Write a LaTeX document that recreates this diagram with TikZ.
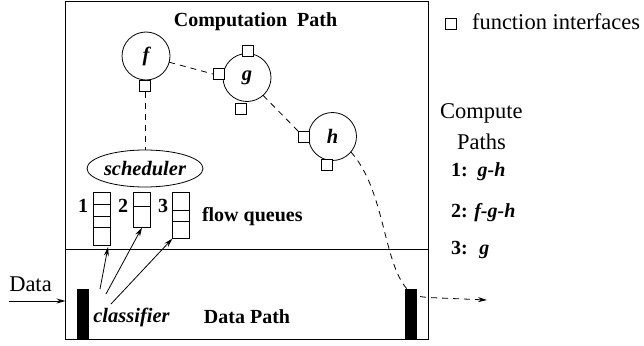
\documentclass[tikz,border=0pt]{standalone}
\usepackage{fontspec}
\setmainfont{Liberation Serif}
\usetikzlibrary{arrows.meta,calc,shapes.geometric}
\begin{document}
\begin{tikzpicture}[x=1pt,y=-1pt,
  every node/.style={inner sep=0pt,outer sep=0pt},
  txt/.style={font=\fontsize{22.5}{26}\selectfont},
  btxt/.style={font=\fontsize{20}{24}\selectfont\bfseries},
  bitxt/.style={font=\fontsize{20.5}{24}\selectfont\bfseries\itshape},
  func/.style={circle,draw,line width=0.8pt,minimum size=48pt,bitxt},
  iface/.style={rectangle,draw,line width=0.8pt,minimum size=11pt,fill=white},
  queue/.style={rectangle,draw,line width=0.8pt,minimum width=17pt},
  bar/.style={rectangle,fill=black,minimum width=12pt,minimum height=50pt},
  link/.style={line width=0.8pt,dash pattern=on 6pt off 5pt},
  arr/.style={line width=0.8pt,-{Stealth[length=9pt,width=5pt]}}]
\useasboundingbox (0,0) rectangle (644,345);

% outer frame and split between compute and data halves
\draw[line width=0.8pt] (65.5,1.5) rectangle (428,339);
\draw[line width=0.8pt] (65.5,249) -- (428,249);

% computation path: functions and their interfaces
\node[btxt] (ctitle) at (255.5,22) {Computation\ \ Path};
\node[func] (fc) at (146,56) {f};
\node[func] (gc) at (247,77.5) {g};
\node[func] (hc) at (332.5,136.5) {h};
\node[iface] (fb) at (145,86) {};
\node[iface] (gt) at (247.5,50.5) {};
\node[iface] (gl) at (218.5,74) {};
\node[iface] (gb) at (241,108.5) {};
\node[iface] (hl) at (303.5,136.5) {};
\node[iface] (hb) at (327,165) {};

\draw[link] (fc.-15) -- (gl.west);
\draw[link] (gc.-48) -- (hl.north west);

% scheduler and flow queues
\node[ellipse,draw,line width=0.8pt,minimum width=114pt,minimum height=37pt,bitxt] (sched) at (145,168.5) {scheduler};
\draw[link] (fb.south) -- (sched.north);

\node[queue,minimum height=53pt,anchor=north] (q1) at (102,192) {};
\foreach \y in {204,216,227} \draw[line width=0.8pt] (q1.west |- 0,\y) -- (q1.east |- 0,\y);
\node[queue,minimum height=35pt,anchor=north] (q2) at (142,192) {};
\draw[line width=0.8pt] (q2.west |- 0,206) -- (q2.east |- 0,206);
\node[queue,minimum height=46pt,anchor=north] (q3) at (181,192) {};
\foreach \y in {210,221} \draw[line width=0.8pt] (q3.west |- 0,\y) -- (q3.east |- 0,\y);

\node[btxt] (n1) at (83,206) {1};
\node[btxt] (n2) at (123,206) {2};
\node[btxt] (n3) at (163,206) {3};
\node[btxt,anchor=west] (fq) at (202,217) {flow queues};

% data path
\node[txt] (data) at (30.5,284) {Data};
\node[bar,anchor=north west] (barL) at (77,289) {};
\draw[arr] (9,301) coordinate (din) -- (din -| 65.5,0);

\node[bitxt] (cls) at (131.5,317) {classifier};
\node[btxt] (dpath) at (247,317) {Data Path};

\coordinate (c1) at (100,289);
\coordinate (c2) at (106,294);
\coordinate (c3) at (111,304);
\draw[arr] (c1) -- ($(q1.south)+(6,2)$);
\draw[arr] (c2) -- ($(q2.south)+(0,0.5)$);
\draw[arr] (c3) -- ($(q3.south west)+(0,0.5)$);

% outgoing flow from h through the egress port
\coordinate (out) at (487,300);
\draw[link,-{Stealth[length=9pt,width=5pt]}] (hc.-40) .. controls (385,190) and (383,262) .. (407,289)
  .. controls (414,296) .. (428,297.5) -- (out);
\node[bar,anchor=north west] (barR) at (405,289) {};

% legend and compute path list
\node[iface] (lsq) at (451,23.5) {};
\node[txt,anchor=west] (ltxt) at (472,22) {function interfaces};
\node[txt,anchor=west] (cp1) at (440,113) {Compute};
\node[txt,anchor=west] (cp2) at (457,142) {Paths};
\node[btxt,anchor=west] (p1) at (451,172) {1:\ \ \textit{g-h}};
\node[btxt,anchor=west] (p2) at (451,213) {2: \textit{f-g-h}};
\node[btxt,anchor=west] (p3) at (451,250) {3: \ \textit{g}};
\end{tikzpicture}
\end{document}
